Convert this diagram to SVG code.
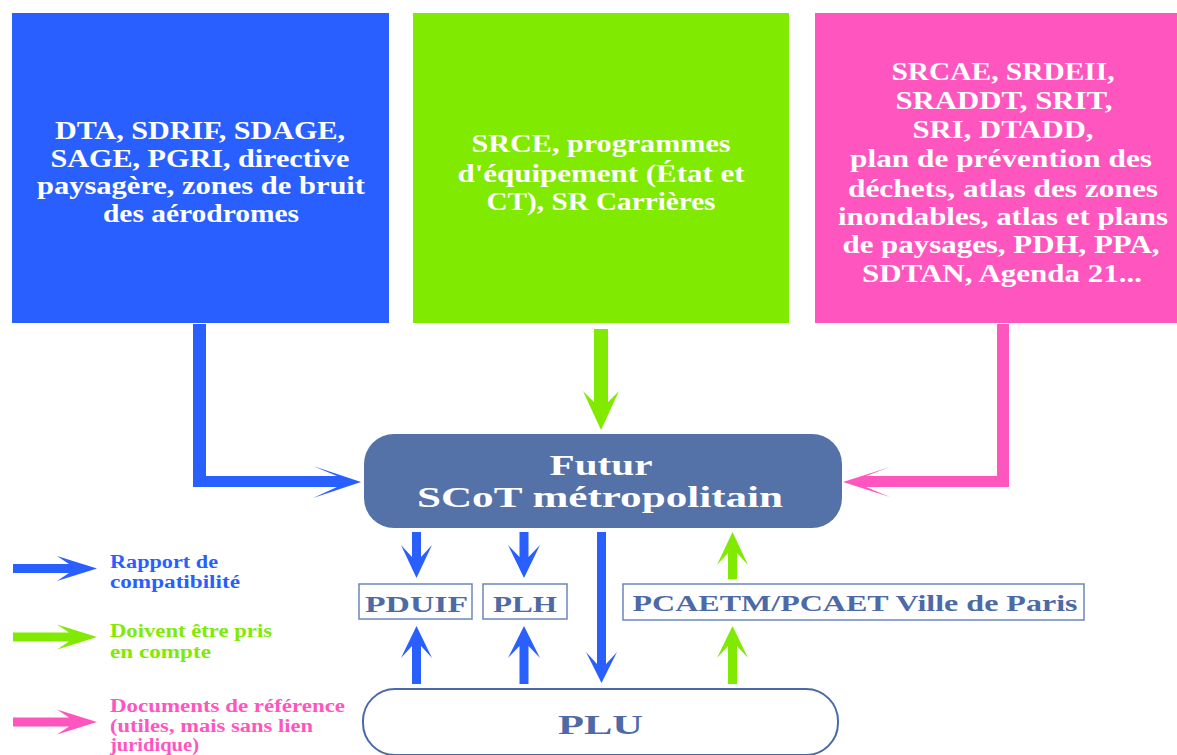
<svg xmlns="http://www.w3.org/2000/svg" width="1177" height="755" viewBox="0 0 1177 755">
<style>
text{font-family:"Liberation Serif","Times New Roman",serif;font-weight:bold;text-anchor:middle}
.w{fill:#ffffff;font-size:26px}
.big{fill:#ffffff;font-size:30px}
.nav{fill:#4d6aa6;font-size:24px}
.lg{font-size:18px;text-anchor:start}
.cb{fill:#2a5fff}
.cg{fill:#80ea00}
.cp{fill:#ff55bf}
.small{fill:#ffffff;stroke:#6a86bf;stroke-width:1.5}
</style>
<rect width="1177" height="755" fill="#ffffff"/>

<g id="node-blue">
<rect x="12" y="13" width="377" height="310" class="cb"/>
<text class="w" x="200" y="139" textLength="290" lengthAdjust="spacingAndGlyphs">DTA, SDRIF, SDAGE,</text>
<text class="w" x="200" y="167" textLength="299" lengthAdjust="spacingAndGlyphs">SAGE, PGRI, directive</text>
<text class="w" x="201" y="194" textLength="328" lengthAdjust="spacingAndGlyphs">paysagère, zones de bruit</text>
<text class="w" x="201" y="222" textLength="196" lengthAdjust="spacingAndGlyphs">des aérodromes</text>
</g>

<g id="node-green">
<rect x="413" y="13" width="376" height="310" class="cg"/>
<text class="w" x="601" y="152" textLength="259" lengthAdjust="spacingAndGlyphs">SRCE, programmes</text>
<text class="w" x="601" y="182" textLength="287" lengthAdjust="spacingAndGlyphs">d'équipement (État et</text>
<text class="w" x="601" y="210" textLength="229" lengthAdjust="spacingAndGlyphs">CT), SR Carrières</text>
</g>

<g id="node-pink">
<rect x="815" y="13" width="370" height="310" class="cp"/>
<text class="w" x="1003" y="80" textLength="223" lengthAdjust="spacingAndGlyphs">SRCAE, SRDEII,</text>
<text class="w" x="1004" y="109" textLength="217" lengthAdjust="spacingAndGlyphs">SRADDT, SRIT,</text>
<text class="w" x="1003" y="138" textLength="181" lengthAdjust="spacingAndGlyphs">SRI, DTADD,</text>
<text class="w" x="1001" y="167" textLength="302" lengthAdjust="spacingAndGlyphs">plan de prévention des</text>
<text class="w" x="1003" y="197" textLength="310" lengthAdjust="spacingAndGlyphs">déchets, atlas des zones</text>
<text class="w" x="1003" y="225" textLength="330" lengthAdjust="spacingAndGlyphs">inondables, atlas et plans</text>
<text class="w" x="1001" y="253" textLength="317" lengthAdjust="spacingAndGlyphs">de paysages, PDH, PPA,</text>
<text class="w" x="1002" y="282" textLength="280" lengthAdjust="spacingAndGlyphs">SDTAN, Agenda 21...</text>
</g>

<g id="node-scot">
<rect x="364" y="434" width="478" height="94" rx="30" fill="#5472a8"/>
<text class="big" x="601" y="475" textLength="103" lengthAdjust="spacingAndGlyphs">Futur</text>
<text class="big" x="600" y="507" textLength="366" lengthAdjust="spacingAndGlyphs">SCoT métropolitain</text>
</g>

<g id="node-pduif">
<rect x="359" y="584" width="113" height="35" class="small"/>
<text class="nav" x="416.5" y="612" textLength="103" lengthAdjust="spacingAndGlyphs">PDUIF</text>
</g>

<g id="node-plh">
<rect x="483" y="584" width="84" height="35" class="small"/>
<text class="nav" x="525" y="612" textLength="64" lengthAdjust="spacingAndGlyphs">PLH</text>
</g>

<g id="node-pcaet">
<rect x="623" y="584" width="461" height="36" class="small"/>
<text class="nav" x="654.5" y="611" textLength="445" lengthAdjust="spacingAndGlyphs" style="text-anchor:start" dx="-22">PCAETM/PCAET Ville de Paris</text>
</g>

<g id="node-plu">
<rect x="363" y="689" width="475" height="66" rx="32" fill="#ffffff" stroke="#4a6aa6" stroke-width="2"/>
<text class="nav" x="600.5" y="734" style="font-size:28px" textLength="85" lengthAdjust="spacingAndGlyphs">PLU</text>
</g>

<g id="connectors">
<path class="cb" d="M193,324 V487 H337 L313,498 L361,482 L313,466 L337,476 H206 V324 Z"/>
<path class="cg" d="M594,329 H608 V402 L619,391 L601,430 L583,391 L594,402 Z"/>
<path class="cp" d="M1009,324 V487 H866 L890,497 L843,482 L890,467 L866,476 H997 V324 Z"/>
<path class="cb" d="M412,532 H421 V557 L432,545 L416.5,578 L401,545 L412,557 Z"/>
<path class="cb" d="M519.5,532 H528.5 V557 L540,545 L524,578 L508,545 L519.5,557 Z"/>
<path class="cb" d="M412,684 V646 L401,658 L416.5,626 L432,658 L421,646 V684 Z"/>
<path class="cb" d="M519.5,684 V646 L508,658 L524,626 L540,658 L528.5,646 V684 Z"/>
<path class="cb" d="M597,532 H606 V664 L617,652 L601.5,683 L586,652 L597,664 Z"/>
<path class="cg" d="M728,579 V553 L717,565 L732.5,532 L748,565 L737,553 V579 Z"/>
<path class="cg" d="M728,684 V646 L717,658 L732.5,626 L748,658 L737,646 V684 Z"/>
</g>

<g id="legend">
<path class="cb" d="M13,564 H69 L57,556 L97,568.5 L57,581 L69,573 H13 Z"/>
<text class="lg cb" x="110" y="568" textLength="108" lengthAdjust="spacingAndGlyphs">Rapport de</text>
<text class="lg cb" x="110" y="588" textLength="130" lengthAdjust="spacingAndGlyphs">compatibilité</text>
<path class="cg" d="M13,632.5 H69 L57,624.5 L97,637 L57,649.5 L69,641.5 H13 Z"/>
<text class="lg cg" x="110" y="637" textLength="162" lengthAdjust="spacingAndGlyphs">Doivent être pris</text>
<text class="lg cg" x="110" y="658" textLength="101" lengthAdjust="spacingAndGlyphs">en compte</text>
<path class="cp" d="M13,717.5 H69 L57,709.5 L97,722 L57,734.5 L69,726.5 H13 Z"/>
<text class="lg cp" x="110" y="712" textLength="235" lengthAdjust="spacingAndGlyphs">Documents de référence</text>
<text class="lg cp" x="110" y="732" textLength="203" lengthAdjust="spacingAndGlyphs">(utiles, mais sans lien</text>
<text class="lg cp" x="110" y="751" textLength="89" lengthAdjust="spacingAndGlyphs">juridique)</text>
</g>
</svg>
